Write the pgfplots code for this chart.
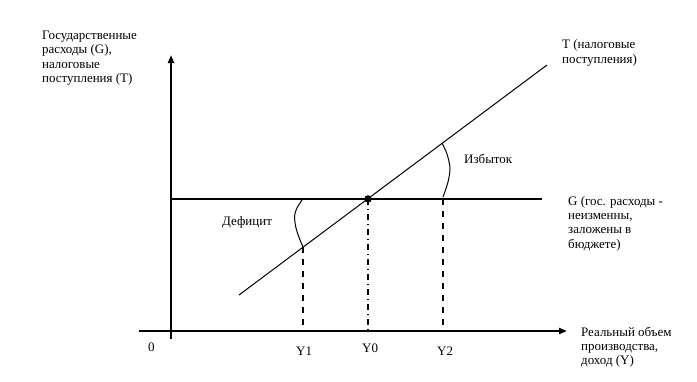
\documentclass[border=0pt]{standalone}
\usepackage{fontspec}
\setmainfont{Liberation Serif}
\usepackage{pgfplots}
\pgfplotsset{compat=1.18}
\usetikzlibrary{arrows.meta}
\begin{document}
\begin{tikzpicture}
\begin{axis}[width=697bp, height=382bp, scale only axis,
  xmin=0, xmax=697, ymin=0, ymax=382, y dir=reverse,
  axis line style={draw=none}, ticks=none, clip=false]
% axes
\addplot[line width=2.4bp, -{Triangle[length=8bp,width=6bp]}] coordinates {(171,339) (171,55)};
\addplot[line width=2.4bp, -{Triangle[length=8bp,width=6bp]}] coordinates {(139,331) (567,331)};
% T line
\addplot[line width=1bp] coordinates {(239,295) (547,65)};
% G line
\addplot[line width=1.4bp] coordinates {(171,199) (542,199)};
% dashed verticals
\addplot[line width=1.3bp, dash pattern=on 6bp off 6bp] coordinates {(303,247) (303,331)};
\addplot[line width=1.3bp, dash pattern=on 6bp off 6bp] coordinates {(443,199) (443,331)};
\addplot[line width=1.3bp, dash pattern=on 6bp off 4bp on 1bp off 4bp] coordinates {(368,199) (368,331)};
% braces
\addplot[line width=1bp, smooth] coordinates {(302,200) (297,208) (294.5,216) (296,228) (300,240) (303,247)};
\addplot[line width=1bp, smooth] coordinates {(442,143) (447,154) (450,168) (448,182) (443,197)};
% equilibrium point
\addplot[only marks, mark=*, mark size=3.5bp, mark options={fill=black}] coordinates {(368,199)};
% labels
\begin{scope}[every node/.style={anchor=base west, inner sep=0pt, font=\fontsize{13}{14}\selectfont}]
\node at (axis cs:42,39) {Государственные};
\node at (axis cs:42,53.5) {расходы (G),};
\node at (axis cs:42,68) {налоговые};
\node at (axis cs:42,82.5) {поступления (T)};
\node at (axis cs:562,48) {T (налоговые};
\node at (axis cs:562,63) {поступления)};
\node at (axis cs:464,163) {Избыток};
\node at (axis cs:222,225) {Дефицит};
\node at (axis cs:568,205) {G (гос. расходы -};
\node at (axis cs:568,219) {неизменны,};
\node at (axis cs:568,233) {заложены в};
\node at (axis cs:568,248) {бюджете)};
\node at (axis cs:148,351) {0};
\node at (axis cs:296,355) {Y1};
\node at (axis cs:362,352) {Y0};
\node at (axis cs:437,355) {Y2};
\node at (axis cs:581,336) {Реальный объем};
\node at (axis cs:581,350) {производства,};
\node at (axis cs:581,364) {доход (Y)};
\end{scope}
\end{axis}
\end{tikzpicture}
\end{document}
